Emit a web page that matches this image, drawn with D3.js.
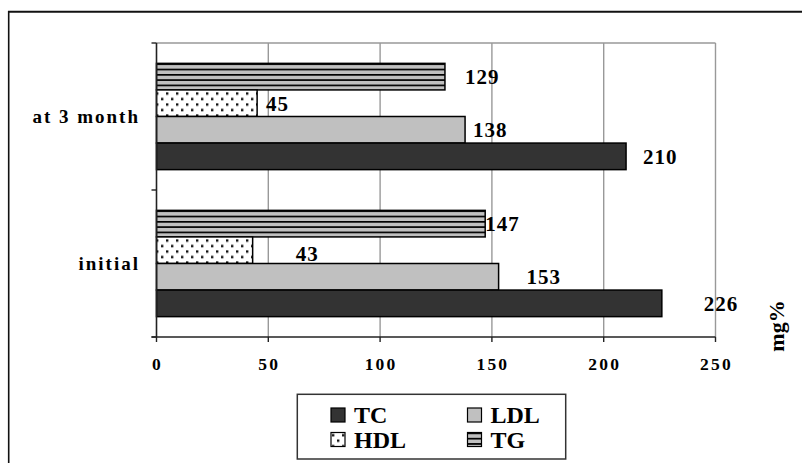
<!DOCTYPE html>
<html><head><meta charset="utf-8">
<script src="https://cdn.jsdelivr.net/npm/d3@7"></script>
<style>body{margin:0;background:#fff}svg{display:block}text{font-family:"Liberation Serif","Times New Roman",serif;font-weight:bold;fill:#000}</style>
</head><body><svg id="c" width="802" height="463"></svg>
<script>
const categories = ["at 3 month", "initial"];
const seriesNames = ["TG", "HDL", "LDL", "TC"]; // top to bottom within a group
const TC = [210, 226];
const LDL = [138, 153];
const HDL = [45, 43];
const TG = [129, 147];
const xTicks = [0, 50, 100, 150, 200, 250];
const legendOrder = ["TC", "LDL", "HDL", "TG"];
// label gap (px) after bar end, per series per category
const labelGap = {TC: [17, 42], LDL: [8, 28], HDL: [9, 43], TG: [20, 0]};

const values = {TC, LDL, HDL, TG};
const svg = d3.select("#c");
const defs = svg.append("defs");
const dots = defs.append("pattern").attr("id", "dots").attr("patternUnits", "userSpaceOnUse").attr("width", 10).attr("height", 11);
dots.append("rect").attr("width", 10).attr("height", 11).attr("fill", "#fff");
dots.append("rect").attr("x", 1).attr("y", 1.5).attr("width", 2.4).attr("height", 2.4).attr("fill", "#111");
dots.append("rect").attr("x", 6).attr("y", 7).attr("width", 2.4).attr("height", 2.4).attr("fill", "#111");
const stripes = defs.append("pattern").attr("id", "stripes").attr("patternUnits", "userSpaceOnUse").attr("width", 10).attr("height", 5.3);
stripes.append("rect").attr("width", 10).attr("height", 5.3).attr("fill", "#c0c0c0");
stripes.append("rect").attr("y", 0).attr("width", 10).attr("height", 1.7).attr("fill", "#000");

const fills = {TC: "#333333", LDL: "#c0c0c0", HDL: "url(#dots)", TG: "url(#stripes)"};

// frame
svg.append("line").attr("x1", 8).attr("x2", 802).attr("y1", 11.7).attr("y2", 11.7).attr("stroke", "#111").attr("stroke-width", 2);
svg.append("line").attr("x1", 8.7).attr("x2", 8.7).attr("y1", 11).attr("y2", 463).attr("stroke", "#111").attr("stroke-width", 1.6);

const x = d3.scaleLinear().domain([0, 250]).range([156.5, 715.5]);
const y0 = d3.scaleBand().domain(categories).range([43, 337]).paddingInner(0.277).paddingOuter(0.1385);
const y1 = d3.scaleBand().domain(seriesNames).range([0, y0.bandwidth()]);

// grid
svg.append("g").selectAll("line").data(xTicks.slice(1)).join("line")
  .attr("x1", d => x(d)).attr("x2", d => x(d)).attr("y1", 43).attr("y2", 337)
  .attr("stroke", "#999").attr("stroke-width", 1.4);
svg.append("line").attr("x1", x(0)).attr("x2", x(250)).attr("y1", 43).attr("y2", 43).attr("stroke", "#999").attr("stroke-width", 1.4);

// bars
const groups = svg.append("g").selectAll("g").data(categories).join("g")
  .attr("transform", c => `translate(0,${y0(c)})`);
groups.each(function(c, ci) {
  const g = d3.select(this);
  seriesNames.forEach(s => {
    const v = values[s][ci];
    g.append("rect").attr("x", x(0)).attr("y", y1(s)).attr("width", x(v) - x(0)).attr("height", y1.bandwidth())
      .attr("fill", fills[s]).attr("stroke", "#000").attr("stroke-width", 1.5);
  });
  seriesNames.forEach(s => {
    const v = values[s][ci];
    g.append("text").attr("x", x(v) + labelGap[s][ci]).attr("y", y1(s) + y1.bandwidth() / 2 + (s === "HDL" && ci === 1 ? 3 : 0))
      .attr("dy", "0.35em").attr("font-size", 21).attr("letter-spacing", 1).text(v);
  });
});

// axes
svg.append("line").attr("x1", x(0)).attr("x2", x(0)).attr("y1", 43).attr("y2", 337).attr("stroke", "#222").attr("stroke-width", 1.6);
svg.append("g").selectAll("line").data([43, y0.step() + 43, 337]).join("line")
  .attr("x1", x(0) - 5).attr("x2", x(0)).attr("y1", d => d).attr("y2", d => d).attr("stroke", "#222").attr("stroke-width", 1.4);
svg.append("line").attr("x1", x(0) - 5).attr("x2", x(250)).attr("y1", 337).attr("y2", 337).attr("stroke", "#222").attr("stroke-width", 1.6);
svg.append("g").selectAll("line").data(xTicks).join("line")
  .attr("x1", d => x(d)).attr("x2", d => x(d)).attr("y1", 337).attr("y2", 342).attr("stroke", "#222").attr("stroke-width", 1.4);
svg.append("g").selectAll("text").data(xTicks).join("text")
  .attr("x", d => x(d) + 1).attr("y", 370).attr("text-anchor", "middle").attr("font-size", 17.5).attr("letter-spacing", 2.2).text(d => d);

// category labels
svg.append("g").selectAll("text").data(categories).join("text")
  .attr("x", 140).attr("y", c => y0(c) + y0.bandwidth() / 2 + 6).attr("text-anchor", "end")
  .attr("font-size", 19).attr("letter-spacing", 2).text(c => c);

// axis title
svg.append("text").attr("transform", "translate(784,326) rotate(-90)").attr("text-anchor", "middle").attr("font-size", 22).text("mg%");

// legend
svg.append("rect").attr("x", 297.3).attr("y", 394.3).attr("width", 268.4).attr("height", 64.7).attr("fill", "#fff").attr("stroke", "#333").attr("stroke-width", 1.5);
const lg = svg.append("g").selectAll("g").data(legendOrder).join("g")
  .attr("transform", (d, i) => `translate(${i % 2 === 0 ? 331 : 467.5},${i < 2 ? 408 : 432.5})`);
lg.append("rect").attr("width", 14).attr("height", 14).attr("fill", d => fills[d]).attr("stroke", "#000").attr("stroke-width", 1.2);
lg.append("text").attr("x", 23).attr("y", 15.3).attr("font-size", 24).text(d => d);
</script></body></html>
